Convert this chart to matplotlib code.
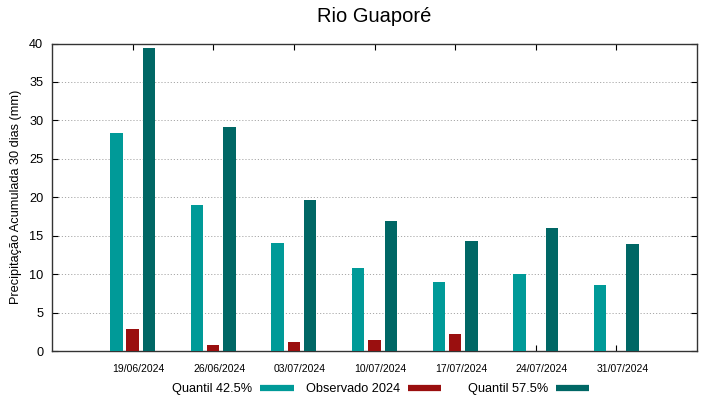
import numpy as np
import matplotlib
matplotlib.use("Agg")
import matplotlib.pyplot as plt
import matplotlib.transforms as mtransforms
from matplotlib.lines import Line2D

plt.rcParams["font.family"] = ["Liberation Sans", "DejaVu Sans"]

# data
dates      = ["19/06/2024", "26/06/2024", "03/07/2024", "10/07/2024",
              "17/07/2024", "24/07/2024", "31/07/2024"]
q425       = [28.3, 19.0, 14.05, 10.85, 9.0, 10.0, 8.55]
observado  = [2.86, 0.78, 1.22, 1.39, 2.21, np.nan, np.nan]
q575       = [39.4, 29.1, 19.7, 16.9, 14.27, 16.06, 13.97]

c_q425 = "#009a98"
c_obs  = "#9a0f0f"
c_q575 = "#006765"

W, H = 719, 399
fig = plt.figure(figsize=(W / 100, H / 100), dpi=100)
ax = fig.add_axes([52 / W, 1 - 351 / H, (697 - 52) / W, (351 - 43.5) / H])

x = np.arange(len(dates))
bw = 0.155
off = 0.202
ax.bar(x - off, q425, bw, color=c_q425, zorder=3)
ax.bar(x, observado, bw, color=c_obs, zorder=3)
ax.bar(x + off, q575, bw, color=c_q575, zorder=3)

ax.set_xlim(-1, 7)
ax.set_ylim(0, 40)
ax.set_yticks(np.arange(0, 41, 5))
ax.set_xticks(x)
ax.set_xticklabels(dates, fontsize=7.5)
ax.tick_params(axis="y", labelsize=9.2, direction="in", length=4,
               right=True, pad=6.3, width=0.8)
ax.tick_params(axis="x", direction="in", length=4, top=True, pad=9, width=0.8)

# gnuplot puts the date labels a bit right of their tick
shift = mtransforms.ScaledTranslation(6 / 100, 0, fig.dpi_scale_trans)
for lab in ax.get_xticklabels():
    lab.set_transform(lab.get_transform() + shift)

for v in np.arange(5, 40, 5):
    ax.axhline(v, color="#a8a8a8", lw=0.7, ls=(0, (1.2, 2)), zorder=1)

for s in ax.spines.values():
    s.set_color("#333333")
    s.set_linewidth(1.0)

ax.set_ylabel("Precipitação Acumulada 30 dias (mm)", fontsize=9.2)
ax.yaxis.set_label_coords((22 - 52) / (697 - 52), 0.5)
fig.text(374 / W, 1 - 17 / H, "Rio Guaporé", ha="center", va="center",
         fontsize=14.5)

# legend laid out like gnuplot: text, then swatch
leg_y = 1 - 387.5 / H
base_y = 1 - 392 / H
entries = [("Quantil 42.5%", c_q425, 252.5, 260, 293.5),
           ("Observado 2024", c_obs, 400, 408, 441),
           ("Quantil 57.5%", c_q575, 548.5, 556, 589)]
for label, col, tx, x0, x1 in entries:
    fig.text(tx / W, base_y, label, ha="right", va="baseline", fontsize=9.2)
    fig.add_artist(Line2D([x0 / W, x1 / W], [leg_y, leg_y], color=col,
                          lw=4.5, solid_capstyle="butt",
                          transform=fig.transFigure))

fig.savefig("out.png", dpi=100)
